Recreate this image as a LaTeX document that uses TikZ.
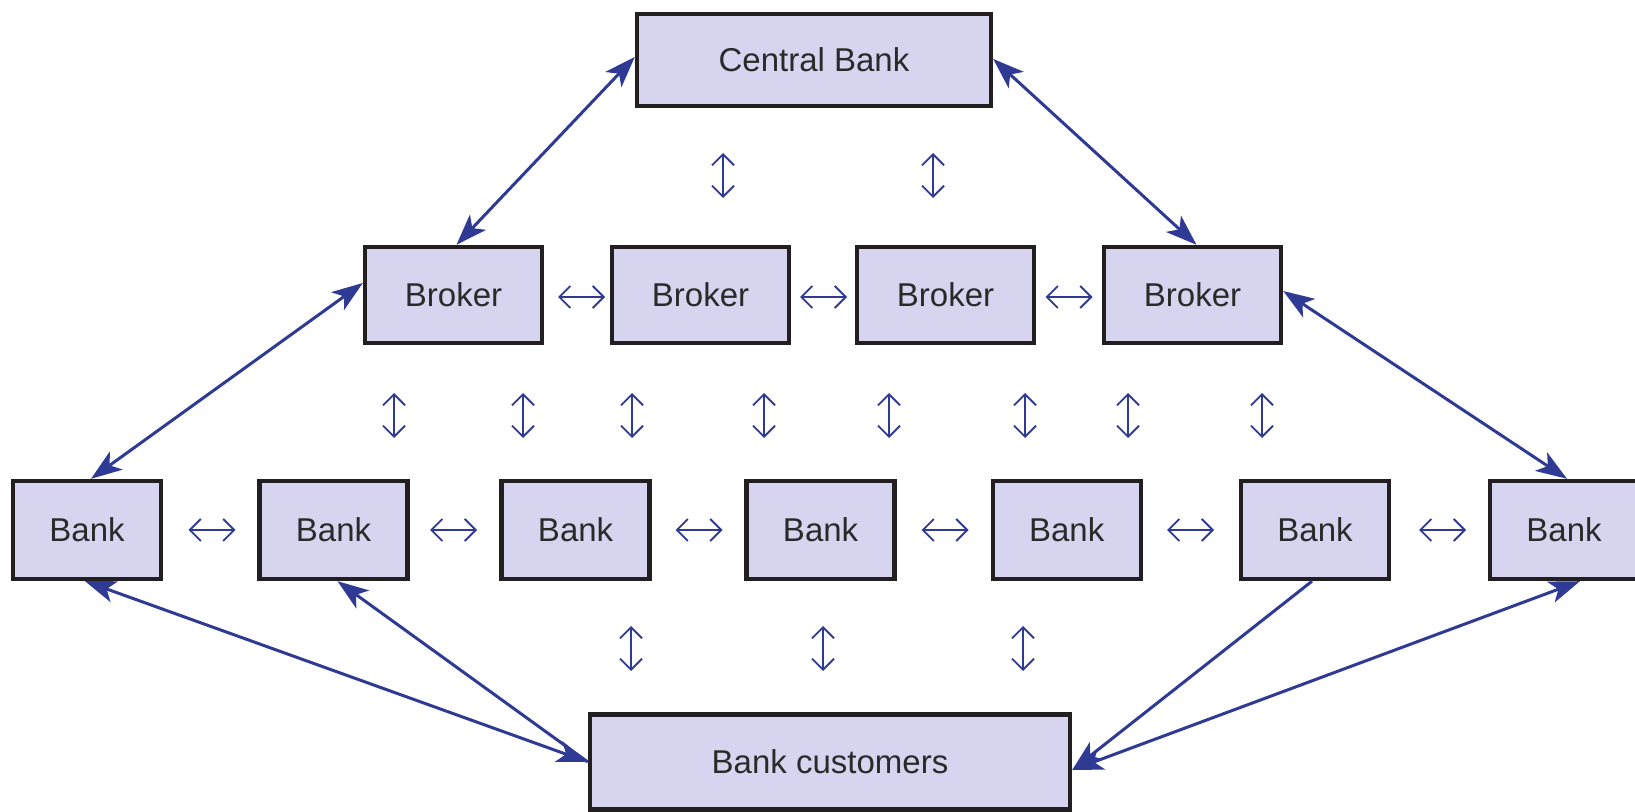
\documentclass[tikz,border=0pt]{standalone}
\usepackage{fontspec}
\setmainfont{Liberation Sans}
\usetikzlibrary{arrows.meta}
\definecolor{boxfill}{HTML}{D6D4EE}
\definecolor{boxline}{HTML}{231F20}
\definecolor{arrowblue}{HTML}{2E3A94}
\definecolor{txt}{HTML}{2A2A2A}
\tikzset{
  boxbase/.style={draw=boxline, fill=boxfill, line width=2.2pt, inner sep=0pt,
    font=\fontsize{16.5}{20}\selectfont, text=txt},
  cbbox/.style={boxbase, minimum width=177pt, minimum height=46pt},
  brbox/.style={boxbase, minimum width=88.5pt, minimum height=48pt},
  bkbox/.style={boxbase, minimum width=74pt, minimum height=49pt},
  cubox/.style={boxbase, minimum width=240pt, minimum height=47.5pt},
  big/.style={draw=arrowblue, line width=1.5pt,
    arrows={Stealth[length=15.5pt,width=11pt,inset=4pt]-Stealth[length=15.5pt,width=11pt,inset=4pt]}},
  bigone/.style={draw=arrowblue, line width=1.5pt,
    arrows={-Stealth[length=15.5pt,width=11pt,inset=4pt]}},
  small/.style={draw=arrowblue, line width=0.9pt,
    arrows={Straight Barb[length=5.5pt,width=11pt]-Straight Barb[length=5.5pt,width=11pt]}}
}
\begin{document}
\begin{tikzpicture}[x=0.5pt,y=-0.5pt]
\useasboundingbox (0,0) rectangle (1635,812);
% nodes
\node[cbbox] (cb) at (814,60) {Central Bank};
\node[brbox] (br1) at (453.5,295) {Broker};
\node[brbox] (br2) at (700.5,295) {Broker};
\node[brbox] (br3) at (945.5,295) {Broker};
\node[brbox] (br4) at (1192.5,295) {Broker};
\node[bkbox] (bk1) at (87,530) {Bank};
\node[bkbox] (bk2) at (333.5,530) {Bank};
\node[bkbox] (bk3) at (575.6,530) {Bank};
\node[bkbox] (bk4) at (820.6,530) {Bank};
\node[bkbox] (bk5) at (1066.7,530) {Bank};
\node[bkbox] (bk6) at (1315,530) {Bank};
\node[bkbox] (bk7) at (1564,530) {Bank};
\node[cubox] (cu) at (830,762) {Bank customers};
% big connectors
\draw[big] ([yshift=1.5pt]cb.west) -- ([xshift=1.5pt]br1.north);
\draw[big] ([yshift=0.5pt]cb.east) -- ([xshift=2pt]br4.north);
\draw[big] ([yshift=6pt]br1.west) -- ([xshift=2pt]bk1.north);
\draw[big] ([yshift=2pt]br4.east) -- ([xshift=1.5pt]bk7.north);
\draw[big] ([xshift=-1pt]bk1.south) -- (cu.west);
\draw[bigone] (cu.west) -- ([xshift=2pt]bk2.south);
\draw[bigone] ([xshift=-1.5pt]bk6.south) -- ([yshift=-4pt]cu.east);
\draw[big] ([xshift=8pt]bk7.south) -- ([yshift=-4pt]cu.east);
% small arrows: central - brokers
\foreach \x in {723,933} \draw[small] (\x,153) -- (\x,198);
% brokers - banks
\foreach \x in {394,523,632,764,889,1025,1128,1262} \draw[small] (\x,393) -- (\x,438);
% banks - customers
\foreach \x in {631,823,1023} \draw[small] (\x,626) -- (\x,671);
% horizontal between brokers
\foreach \x in {581.5,823.5,1069} \draw[small] (\x-23.5,297) -- (\x+23.5,297);
% horizontal between banks
\foreach \x in {212,453.5,699,945,1190.5,1442.5} \draw[small] (\x-23.5,530) -- (\x+23.5,530);
\end{tikzpicture}
\end{document}
